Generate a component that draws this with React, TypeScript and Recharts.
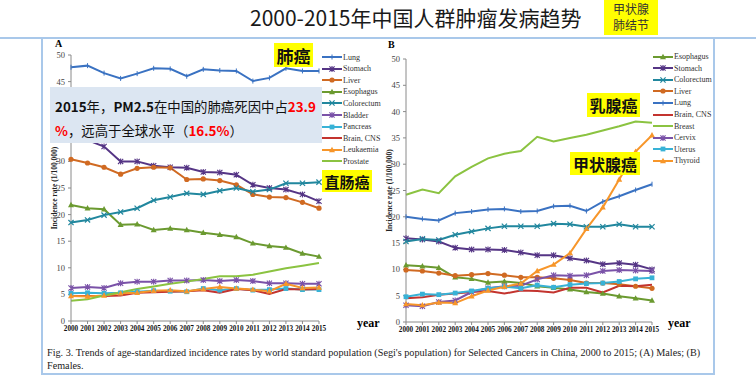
import React from 'react';
import { LineChart, Line, XAxis, YAxis } from 'recharts';

const years = ['2000', '2001', '2002', '2003', '2004', '2005', '2006', '2007', '2008', '2009', '2010', '2011', '2012', '2013', '2014', '2015'];
const yTicks = [0, 5, 10, 15, 20, 25, 30, 35, 40, 45, 50];

// (A) Males
const maleLung = [47.7, 48.0, 46.6, 45.6, 46.5, 47.5, 47.4, 46.0, 47.3, 47.1, 47.0, 45.1, 45.7, 47.5, 47.0, 47.0];
const maleStomach = [34.4, 34.0, 32.8, 30.0, 30.0, 29.2, 28.9, 28.8, 28.0, 27.9, 27.5, 25.6, 25.0, 24.7, 23.8, 22.5];
const maleLiver = [30.4, 29.7, 28.9, 27.6, 28.7, 28.9, 28.8, 26.6, 26.7, 26.4, 25.6, 23.8, 23.3, 23.2, 22.3, 21.2];
const maleEsophagus = [21.8, 21.2, 21.0, 18.1, 18.2, 17.1, 17.4, 17.1, 16.6, 16.2, 15.8, 14.6, 14.1, 13.8, 12.7, 12.1];
const maleColorectum = [18.5, 19.0, 19.9, 20.5, 21.2, 22.7, 23.3, 24.0, 23.8, 24.5, 25.0, 24.3, 24.7, 25.9, 25.9, 26.1];
const maleBladder = [6.2, 6.4, 6.2, 7.1, 7.4, 7.4, 7.6, 7.6, 7.7, 7.5, 7.7, 7.5, 7.1, 7.1, 7.0, 7.0];
const malePancreas = [5.2, 5.3, 5.2, 5.3, 5.5, 5.7, 5.6, 5.5, 6.1, 5.8, 6.1, 5.8, 5.9, 6.1, 5.9, 5.9];
const maleBrain = [4.7, 4.7, 4.7, 4.8, 5.3, 5.4, 5.5, 5.6, 5.8, 5.3, 6.0, 5.8, 5.1, 6.0, 5.9, 6.0];
const maleLeukaemia = [4.7, 4.6, 4.8, 5.2, 5.3, 5.7, 5.8, 5.6, 6.0, 6.4, 6.1, 5.9, 5.6, 7.0, 6.2, 6.3];
const maleProstate = [3.8, 4.1, 4.8, 5.4, 6.0, 6.5, 7.0, 7.4, 7.9, 8.4, 8.4, 8.7, 9.3, 9.9, 10.4, 10.9];

// (B) Females
const femaleEsophagus = [10.8, 10.6, 10.3, 8.5, 8.2, 7.5, 7.7, 7.4, 6.8, 6.5, 6.2, 5.7, 5.4, 4.9, 4.5, 4.1];
const femaleStomach = [15.9, 15.7, 15.3, 14.1, 13.8, 13.8, 13.7, 13.2, 12.7, 12.7, 12.1, 11.7, 11.0, 11.2, 10.9, 10.0];
const femaleColorectum = [15.3, 15.8, 15.6, 16.6, 17.2, 17.8, 18.2, 18.2, 18.2, 18.7, 18.6, 18.1, 18.1, 18.6, 18.1, 18.1];
const femaleLiver = [9.9, 9.7, 9.3, 8.8, 9.0, 9.2, 8.9, 8.5, 8.5, 8.3, 8.0, 7.4, 7.4, 7.2, 6.8, 6.4];
const femaleLung = [20.0, 19.6, 19.3, 20.7, 21.0, 21.4, 21.5, 21.0, 21.1, 22.0, 22.1, 21.1, 22.9, 23.9, 25.1, 26.2];
const femaleBrain = [4.5, 4.7, 5.2, 5.4, 5.7, 5.9, 5.4, 6.0, 5.9, 5.6, 6.5, 6.5, 5.6, 6.9, 6.8, 7.1];
const femaleBreast = [24.2, 25.2, 24.5, 27.7, 29.5, 31.1, 32.0, 32.5, 35.2, 34.3, 35.0, 35.6, 36.4, 37.2, 38.1, 37.9];
const femaleCervix = [3.2, 3.0, 3.8, 4.1, 5.7, 6.4, 6.8, 6.9, 8.1, 8.9, 8.8, 8.9, 9.7, 9.9, 9.8, 9.7];
const femaleUterus = [4.8, 5.3, 5.2, 5.5, 5.9, 6.4, 6.7, 6.4, 7.0, 6.6, 7.1, 7.3, 7.4, 7.7, 8.2, 8.4];
const femaleThyroid = [3.4, 3.2, 3.7, 3.6, 4.9, 6.0, 6.7, 7.3, 9.7, 10.9, 13.1, 17.7, 21.8, 27.1, 32.4, 35.5];

const maleSeries = [
  { name: 'Lung', values: maleLung, color: '#3A72C2', marker: 'dash' },
  { name: 'Stomach', values: maleStomach, color: '#553585', marker: 'star' },
  { name: 'Liver', values: maleLiver, color: '#D06A22', marker: 'circle' },
  { name: 'Esophagus', values: maleEsophagus, color: '#6B9A30', marker: 'triangle' },
  { name: 'Colorectum', values: maleColorectum, color: '#21879E', marker: 'x' },
  { name: 'Bladder', values: maleBladder, color: '#7A52A8', marker: 'star' },
  { name: 'Pancreas', values: malePancreas, color: '#38B2D6', marker: 'square' },
  { name: 'Brain, CNS', values: maleBrain, color: '#C3342F', marker: 'none' },
  { name: 'Leukaemia', values: maleLeukaemia, color: '#F7962A', marker: 'triangle' },
  { name: 'Prostate', values: maleProstate, color: '#8BC341', marker: 'none' },
];

const femaleSeries = [
  { name: 'Esophagus', values: femaleEsophagus, color: '#6B9A30', marker: 'triangle' },
  { name: 'Stomach', values: femaleStomach, color: '#553585', marker: 'star' },
  { name: 'Colorectum', values: femaleColorectum, color: '#21879E', marker: 'x' },
  { name: 'Liver', values: femaleLiver, color: '#D06A22', marker: 'circle' },
  { name: 'Lung', values: femaleLung, color: '#3A72C2', marker: 'dash' },
  { name: 'Brain, CNS', values: femaleBrain, color: '#C3342F', marker: 'none' },
  { name: 'Breast', values: femaleBreast, color: '#8BC341', marker: 'none' },
  { name: 'Cervix', values: femaleCervix, color: '#7A52A8', marker: 'star' },
  { name: 'Uterus', values: femaleUterus, color: '#38B2D6', marker: 'square' },
  { name: 'Thyroid', values: femaleThyroid, color: '#F7962A', marker: 'triangle' },
];

const buildRows = (series) =>
  years.map((year, i) => {
    const row = { year };
    series.forEach((s) => { row[s.name] = s.values[i]; });
    return row;
  });

const maleData = buildRows(maleSeries);
const femaleData = buildRows(femaleSeries);

const serif = '"Liberation Serif", "DejaVu Serif", serif';
const cjk = '"Noto Sans CJK SC", "Noto Sans", sans-serif';

const Marker = ({ cx, cy, color, shape }) => {
  if (cx == null || cy == null) return null;
  if (shape === 'circle') return <circle cx={cx} cy={cy} r={2.6} fill={color} />;
  if (shape === 'triangle') return <polygon points={`${cx},${cy - 3.2} ${cx + 3},${cy + 2.2} ${cx - 3},${cy + 2.2}`} fill={color} />;
  if (shape === 'square') return <rect x={cx - 2.4} y={cy - 2.4} width={4.8} height={4.8} fill={color} />;
  if (shape === 'x')
    return <path d={`M${cx - 2.6},${cy - 2.6}L${cx + 2.6},${cy + 2.6}M${cx - 2.6},${cy + 2.6}L${cx + 2.6},${cy - 2.6}`} stroke={color} strokeWidth={1.2} />;
  if (shape === 'star')
    return <path d={`M${cx - 2.6},${cy - 2.6}L${cx + 2.6},${cy + 2.6}M${cx - 2.6},${cy + 2.6}L${cx + 2.6},${cy - 2.6}M${cx},${cy - 3}L${cx},${cy + 3}`} stroke={color} strokeWidth={1.1} />;
  if (shape === 'dash') return <path d={`M${cx},${cy - 2.5}L${cx},${cy + 2.5}`} stroke={color} strokeWidth={1} />;
  return null;
};

const AxisTitle = ({ x, y }) => (
  <text x={x} y={y} transform={`rotate(-90 ${x} ${y})`} textAnchor="middle" dominantBaseline="middle"
    style={{ fontFamily: serif, fontSize: 7.5, fontWeight: 'bold', fill: '#222' }}>
    Incidence rate (1/100,000)
  </text>
);

const Panel = ({ data, series, left, top, width, height, marginTop, titleX, titleY }) => (
  <div style={{ position: 'absolute', left, top }}>
    <LineChart width={width} height={height} data={data} margin={{ top: marginTop, right: 10, bottom: 0, left: 0 }}>
      <XAxis dataKey="year" interval={0} tickSize={3} tickMargin={2} height={16}
        stroke="#8A8A8A" tick={{ fontFamily: serif, fontSize: 7.2, fontWeight: 'bold', fill: '#111' }} />
      <YAxis domain={[0, 50]} ticks={yTicks} width={31} tickSize={3} tickMargin={3}
        stroke="#8A8A8A" tick={{ fontFamily: serif, fontSize: 8.5, fill: '#444' }}
        label={<AxisTitle x={titleX} y={titleY} />} />
      {series.map((s) => (
        <Line key={s.name} dataKey={s.name} stroke={s.color} strokeWidth={2} isAnimationActive={false}
          dot={s.marker === 'none' ? false : (p) => <Marker key={`${s.name}-${p.index}`} cx={p.cx} cy={p.cy} color={s.color} shape={s.marker} />} />
      ))}
    </LineChart>
  </div>
);

const LegendBox = ({ series, left, top }) => (
  <div style={{ position: 'absolute', left, top }}>
    {series.map((s) => (
      <div key={s.name} style={{ display: 'flex', alignItems: 'center', height: 11.55 }}>
        <svg width={20} height={8}>
          <line x1={0} y1={4} x2={20} y2={4} stroke={s.color} strokeWidth={2} />
          <Marker cx={10} cy={4} color={s.color} shape={s.marker} />
        </svg>
        <span style={{ fontFamily: serif, fontSize: 8, color: '#333', marginLeft: 1, whiteSpace: 'nowrap' }}>{s.name}</span>
      </div>
    ))}
  </div>
);

const Tag = ({ text, left, top, width, height, fontSize }) => (
  <div style={{ position: 'absolute', left, top, width, height, background: '#FFFF00', fontFamily: cjk, fontSize,
    fontWeight: 'bold', color: '#111', display: 'flex', alignItems: 'center', justifyContent: 'center', whiteSpace: 'nowrap' }}>
    {text}
  </div>
);

export default function App() {
  return (
    <div style={{ position: 'absolute', left: 0, top: 0, width: 756, height: 379, background: '#fff', overflow: 'hidden' }}>
      <div style={{ position: 'absolute', left: 250, top: 4, fontFamily: cjk, fontSize: 21, lineHeight: '26px', color: '#1a1a1a', whiteSpace: 'nowrap' }}>
        2000-2015年中国人群肿瘤发病趋势
      </div>
      <div style={{ position: 'absolute', left: 604, top: 0, width: 54, height: 35, background: '#FFFF00' }} />
      <div style={{ position: 'absolute', left: 604, top: 1, width: 54, fontFamily: cjk, fontSize: 12, lineHeight: '16px',
        color: '#333', textAlign: 'center' }}>甲状腺</div>
      <div style={{ position: 'absolute', left: 604, top: 17, width: 54, fontFamily: cjk, fontSize: 12, lineHeight: '16px',
        color: '#333', textAlign: 'center' }}>肺结节</div>
      <div style={{ position: 'absolute', left: 0, top: 37, width: 756, height: 2, background: '#A9C8EA' }} />
      <div style={{ position: 'absolute', left: 41, top: 38, width: 670, height: 335, borderLeft: '2px solid #A9C8EA',
        borderRight: '2px solid #A9C8EA', borderBottom: '2px solid #A9C8EA' }} />

      <Panel data={maleData} series={maleSeries} left={40} top={40} width={289} height={297} marginTop={15} titleX={11} titleY={150} />
      <Panel data={femaleData} series={femaleSeries} left={375} top={40} width={287} height={298} marginTop={19} titleX={10} titleY={140} />

      <div style={{ position: 'absolute', left: 55, top: 38, fontFamily: serif, fontSize: 10, fontWeight: 'bold' }}>A</div>
      <div style={{ position: 'absolute', left: 388, top: 39, fontFamily: serif, fontSize: 10, fontWeight: 'bold' }}>B</div>

      <LegendBox series={maleSeries} left={322} top={51.5} />
      <LegendBox series={femaleSeries} left={653} top={51} />

      <div style={{ position: 'absolute', left: 357, top: 316, fontFamily: serif, fontSize: 12, fontWeight: 'bold' }}>year</div>
      <div style={{ position: 'absolute', left: 668, top: 316, fontFamily: serif, fontSize: 12, fontWeight: 'bold' }}>year</div>

      <div style={{ position: 'absolute', left: 50, top: 87, width: 272, height: 56, background: '#DCE6F2', boxSizing: 'border-box',
        padding: '7px 0 0 5px', fontFamily: cjk, fontSize: 13.4, lineHeight: '24px', color: '#111', whiteSpace: 'nowrap' }}>
        <div><b>2015</b>年，<b>PM2.5</b>在中国的肺癌死因中占<b style={{ color: '#FF0000' }}>23.9</b></div>
        <div><b style={{ color: '#FF0000' }}>%</b>，远高于全球水平（<b style={{ color: '#FF0000' }}>16.5%</b>）</div>
      </div>

      <Tag text="肺癌" left={274} top={43} width={39} height={24} fontSize={17} />
      <Tag text="直肠癌" left={322} top={170} width={50} height={22} fontSize={15} />
      <Tag text="乳腺癌" left={587} top={93} width={53} height={24} fontSize={16} />
      <Tag text="甲状腺癌" left={570} top={152} width={70} height={23} fontSize={16} />

      <div style={{ position: 'absolute', left: 47, top: 346, fontFamily: serif, fontSize: 10.2, lineHeight: '13px', color: '#222', whiteSpace: 'nowrap' }}>
        Fig. 3. Trends of age-standardized incidence rates by world standard population (Segi's population) for Selected Cancers in China, 2000 to 2015; (A) Males; (B)<br />
        Females.
      </div>
    </div>
  );
}
